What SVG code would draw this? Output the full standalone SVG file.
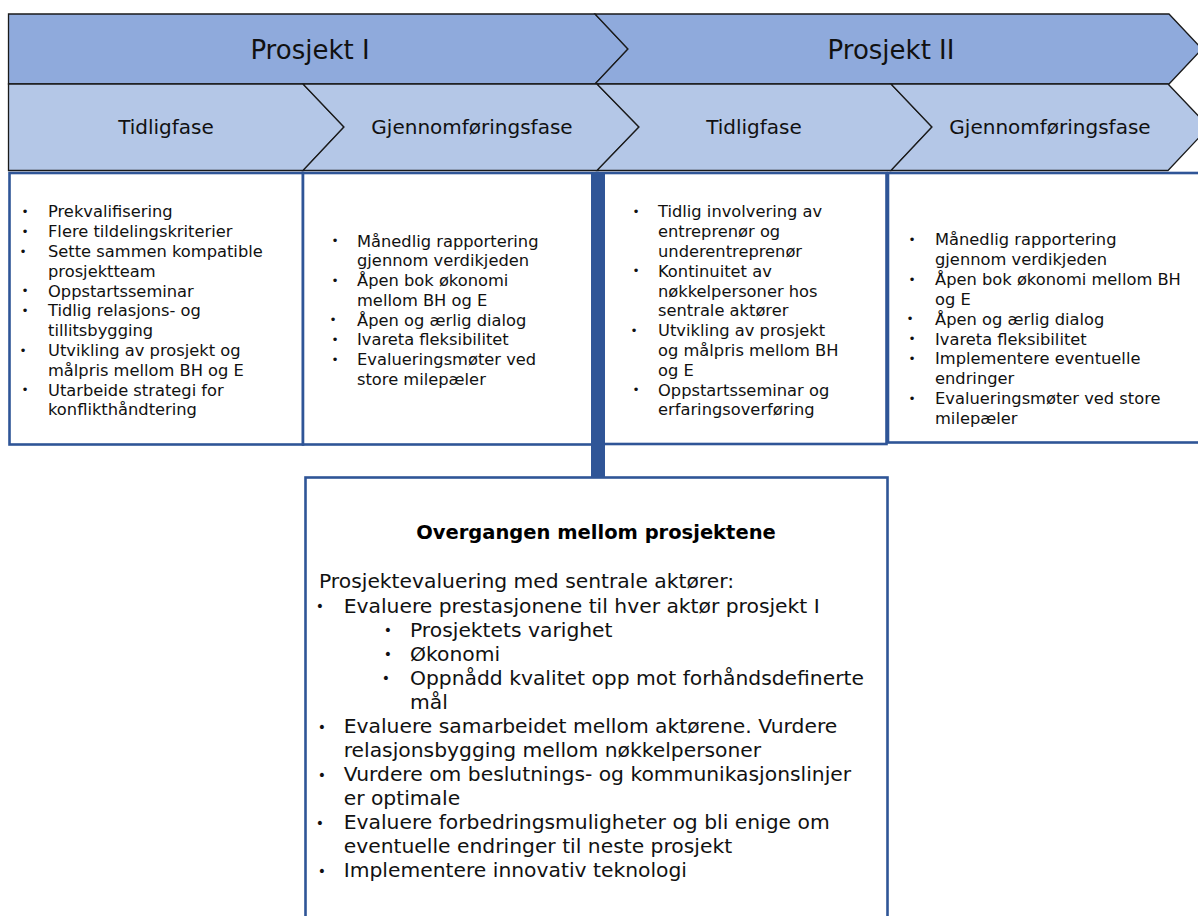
<svg xmlns="http://www.w3.org/2000/svg" width="1198" height="916" viewBox="0 0 1198 916">
  <style>
    .row1 { fill: #8FAADC; stroke: #1a1a1a; stroke-width: 1.3; stroke-linejoin: miter; }
    .row2 { fill: #B4C7E7; stroke: #1a1a1a; stroke-width: 1.3; stroke-linejoin: miter; }
    .box { fill: #ffffff; stroke: #2F5597; stroke-width: 2.6; }
    .bar { fill: #2F5597; }
    .hdr1 { font-family: "DejaVu Sans", Verdana, sans-serif; font-size: 26px; fill: #111; text-anchor: middle; }
    .hdr2 { font-family: "DejaVu Sans", Verdana, sans-serif; font-size: 20px; fill: #111; text-anchor: middle; }
    .body { font-family: "DejaVu Sans", Verdana, sans-serif; font-size: 16.3px; fill: #111; }
    .big { font-family: "DejaVu Sans", Verdana, sans-serif; font-size: 20.3px; fill: #111; }
    .title { font-family: "DejaVu Sans", Verdana, sans-serif; font-size: 19.5px; font-weight: bold; fill: #000; text-anchor: middle; }
    .dot { font-family: "DejaVu Sans", sans-serif; font-size: 12px; fill: #111; text-anchor: middle; }
    .dotb { font-family: "DejaVu Sans", sans-serif; font-size: 14px; fill: #111; text-anchor: middle; }
  </style>

  <!-- Project chevrons (top row) -->
  <g id="prosjekt-1">
    <polygon class="row1" points="8.5,14 595,14 628,49 595,84 8.5,84"/>
    <text class="hdr1" x="310" y="59">Prosjekt I</text>
  </g>
  <g id="prosjekt-2">
    <polygon class="row1" points="595,14 1169,14 1202,49 1169,84 595,84 628,49"/>
    <text class="hdr1" x="891" y="59">Prosjekt II</text>
  </g>

  <!-- Phase chevrons (second row) -->
  <g id="p1-tidligfase">
    <polygon class="row2" points="8.5,84 303,84 344,127 303,170.5 8.5,170.5"/>
    <text class="hdr2" x="166" y="134">Tidligfase</text>
  </g>
  <g id="p1-gjennomforing">
    <polygon class="row2" points="303,84 597,84 639,127 597,170.5 303,170.5 344,127"/>
    <text class="hdr2" x="472" y="134">Gjennomføringsfase</text>
  </g>
  <g id="p2-tidligfase">
    <polygon class="row2" points="597,84 891,84 932,127 891,170.5 597,170.5 639,127"/>
    <text class="hdr2" x="754" y="134">Tidligfase</text>
  </g>
  <g id="p2-gjennomforing">
    <polygon class="row2" points="891,84 1168,84 1209,127 1168,170.5 891,170.5 932,127"/>
    <text class="hdr2" x="1050" y="134">Gjennomføringsfase</text>
  </g>

  <!-- Phase content boxes -->
  <g id="box-p1-tidlig">
    <rect class="box" x="9.5" y="173" width="293.5" height="271.5"/>
    <text class="dot">
      <tspan x="25" y="216">•</tspan><tspan x="25" y="235.8">•</tspan><tspan x="25" y="255.6">•</tspan>
      <tspan x="25" y="295.2">•</tspan><tspan x="25" y="315">•</tspan><tspan x="25" y="354.6">•</tspan>
      <tspan x="25" y="394.2">•</tspan>
    </text>
    <text class="body">
      <tspan x="48" y="217.3">Prekvalifisering</tspan>
      <tspan x="48" y="237.1">Flere tildelingskriterier</tspan>
      <tspan x="48" y="256.9">Sette sammen kompatible</tspan>
      <tspan x="48" y="276.7">prosjektteam</tspan>
      <tspan x="48" y="296.5">Oppstartsseminar</tspan>
      <tspan x="48" y="316.3">Tidlig relasjons- og</tspan>
      <tspan x="48" y="336.1">tillitsbygging</tspan>
      <tspan x="48" y="355.9">Utvikling av prosjekt og</tspan>
      <tspan x="48" y="375.7">målpris mellom BH og E</tspan>
      <tspan x="48" y="395.5">Utarbeide strategi for</tspan>
      <tspan x="48" y="415.3">konflikthåndtering</tspan>
    </text>
  </g>

  <g id="box-p1-gjennomforing">
    <rect class="box" x="303" y="173" width="295" height="271.5"/>
    <text class="dot">
      <tspan x="335" y="245.4">•</tspan><tspan x="335" y="284.8">•</tspan><tspan x="335" y="324.2">•</tspan>
      <tspan x="335" y="343.9">•</tspan><tspan x="335" y="363.6">•</tspan>
    </text>
    <text class="body">
      <tspan x="357" y="246.7">Månedlig rapportering</tspan>
      <tspan x="357" y="266.4">gjennom verdikjeden</tspan>
      <tspan x="357" y="286.1">Åpen bok økonomi</tspan>
      <tspan x="357" y="305.8">mellom BH og E</tspan>
      <tspan x="357" y="325.5">Åpen og ærlig dialog</tspan>
      <tspan x="357" y="345.2">Ivareta fleksibilitet</tspan>
      <tspan x="357" y="364.9">Evalueringsmøter ved</tspan>
      <tspan x="357" y="384.6">store milepæler</tspan>
    </text>
  </g>

  <g id="box-p2-tidlig">
    <rect class="box" x="598" y="173" width="288.5" height="271"/>
    <text class="dot">
      <tspan x="636" y="216">•</tspan><tspan x="636" y="275.4">•</tspan><tspan x="636" y="334.8">•</tspan>
      <tspan x="636" y="394.2">•</tspan>
    </text>
    <text class="body">
      <tspan x="658" y="217.3">Tidlig involvering av</tspan>
      <tspan x="658" y="237.1">entreprenør og</tspan>
      <tspan x="658" y="256.9">underentreprenør</tspan>
      <tspan x="658" y="276.7">Kontinuitet av</tspan>
      <tspan x="658" y="296.5">nøkkelpersoner hos</tspan>
      <tspan x="658" y="316.3">sentrale aktører</tspan>
      <tspan x="658" y="336.1">Utvikling av prosjekt</tspan>
      <tspan x="658" y="355.9">og målpris mellom BH</tspan>
      <tspan x="658" y="375.7">og E</tspan>
      <tspan x="658" y="395.5">Oppstartsseminar og</tspan>
      <tspan x="658" y="415.3">erfaringsoverføring</tspan>
    </text>
  </g>

  <g id="box-p2-gjennomforing">
    <rect class="box" x="888" y="173" width="320" height="269.5"/>
    <text class="dot">
      <tspan x="912" y="243.7">•</tspan><tspan x="912" y="283.5">•</tspan><tspan x="912" y="323.3">•</tspan>
      <tspan x="912" y="343.2">•</tspan><tspan x="912" y="363.1">•</tspan><tspan x="912" y="402.9">•</tspan>
    </text>
    <text class="body">
      <tspan x="935" y="245">Månedlig rapportering</tspan>
      <tspan x="935" y="264.9">gjennom verdikjeden</tspan>
      <tspan x="935" y="284.8">Åpen bok økonomi mellom BH</tspan>
      <tspan x="935" y="304.7">og E</tspan>
      <tspan x="935" y="324.6">Åpen og ærlig dialog</tspan>
      <tspan x="935" y="344.5">Ivareta fleksibilitet</tspan>
      <tspan x="935" y="364.4">Implementere eventuelle</tspan>
      <tspan x="935" y="384.3">endringer</tspan>
      <tspan x="935" y="404.2">Evalueringsmøter ved store</tspan>
      <tspan x="935" y="424.1">milepæler</tspan>
    </text>
  </g>

  <!-- Transition box between the two projects -->
  <g id="box-overgang">
    <rect class="box" x="305.5" y="477.5" width="582" height="470"/>
    <text class="title" x="596" y="539">Overgangen mellom prosjektene</text>
    <text class="big" x="319" y="588">Prosjektevaluering med sentrale aktører:</text>
    <text class="dotb">
      <tspan x="322" y="611">•</tspan>
      <tspan x="388" y="635">•</tspan><tspan x="388" y="659">•</tspan><tspan x="388" y="683">•</tspan>
      <tspan x="322" y="731.5">•</tspan><tspan x="322" y="779.5">•</tspan><tspan x="322" y="827.5">•</tspan>
      <tspan x="322" y="875.5">•</tspan>
    </text>
    <text class="big">
      <tspan x="343.7" y="612.5">Evaluere prestasjonene til hver aktør prosjekt I</tspan>
      <tspan x="410" y="636.5">Prosjektets varighet</tspan>
      <tspan x="410" y="660.5">Økonomi</tspan>
      <tspan x="410" y="684.5">Oppnådd kvalitet opp mot forhåndsdefinerte</tspan>
      <tspan x="410" y="708.5">mål</tspan>
      <tspan x="343.7" y="733">Evaluere samarbeidet mellom aktørene. Vurdere</tspan>
      <tspan x="343.7" y="757">relasjonsbygging mellom nøkkelpersoner</tspan>
      <tspan x="343.7" y="781">Vurdere om beslutnings- og kommunikasjonslinjer</tspan>
      <tspan x="343.7" y="805">er optimale</tspan>
      <tspan x="343.7" y="829">Evaluere forbedringsmuligheter og bli enige om</tspan>
      <tspan x="343.7" y="853">eventuelle endringer til neste prosjekt</tspan>
      <tspan x="343.7" y="877">Implementere innovativ teknologi</tspan>
    </text>
  </g>

  <!-- Connector from the project boundary down to the transition box -->
  <g id="connectors">
    <rect class="bar" x="591" y="172" width="14" height="305"/>
  </g>
</svg>
